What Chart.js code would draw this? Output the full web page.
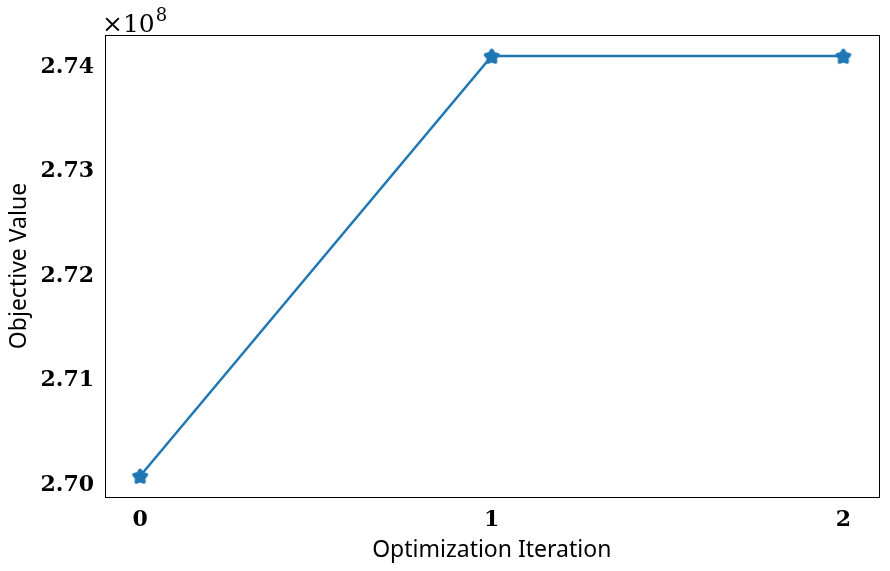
<!DOCTYPE html>
<html>
<head>
<meta charset="utf-8">
<script src="https://cdn.jsdelivr.net/npm/chart.js@4.4.0/dist/chart.umd.min.js"></script>
<style>
  html, body { margin: 0; padding: 0; background: #fff; }
  #wrap { width: 890px; height: 571px; }
</style>
</head>
<body>
<div id="wrap"><canvas id="chart"></canvas></div>
<script>
// data (objective values in units of 1e8)
const iterations = [0, 1, 2];
const objective = [2.70086, 2.74105, 2.74105];
const yTicks = [2.70, 2.71, 2.72, 2.73, 2.74];
const xTicks = [0, 1, 2];

const blue = "#1f77b4";
const serifBold = { family: "'DejaVu Serif', 'Liberation Serif', serif", size: 22, weight: "bold" };
const sansLabel = { family: "'Noto Sans', 'DejaVu Sans', sans-serif", size: 23 };

// five-pointed star marker like matplotlib '*'
function starMarker(size) {
  const c = document.createElement("canvas");
  c.width = size; c.height = size;
  const g = c.getContext("2d");
  const cx = size / 2, cy = size / 2 + 0.8;
  const ro = size / 2 - 2.5, ri = ro * 0.58;
  g.beginPath();
  for (let i = 0; i < 10; i++) {
    const r = i % 2 === 0 ? ro : ri;
    const a = -Math.PI / 2 + i * Math.PI / 5;
    g.lineTo(cx + r * Math.cos(a), cy + r * Math.sin(a));
  }
  g.closePath();
  g.fillStyle = blue;
  g.strokeStyle = blue;
  g.lineWidth = 3.5;
  g.lineJoin = "round";
  g.fill();
  g.stroke();
  return c;
}

const frame = {
  id: "frame",
  afterDraw(chart) {
    const { ctx, chartArea: a } = chart;
    ctx.save();
    ctx.strokeStyle = "#000";
    ctx.lineWidth = 1;
    ctx.strokeRect(Math.round(a.left) + 0.5, Math.round(a.top) + 0.5,
      Math.round(a.right - a.left), Math.round(a.bottom - a.top));
    // offset text  ×10^8
    ctx.fillStyle = "#000";
    ctx.textBaseline = "alphabetic";
    ctx.font = "25px 'DejaVu Serif', serif";
    ctx.fillText("×10", a.left - 3, a.top - 3);
    const w = ctx.measureText("×10").width;
    ctx.font = "18px 'DejaVu Serif', serif";
    ctx.fillText("8", a.left - 3 + w + 1, a.top - 14);
    ctx.restore();
  }
};

new Chart(document.getElementById("chart"), {
  type: "line",
  data: {
    datasets: [{
      data: iterations.map((x, i) => ({ x: x, y: objective[i] })),
      borderColor: blue,
      backgroundColor: blue,
      borderWidth: 2.5,
      pointStyle: starMarker(18),
      pointRadius: 9,
      tension: 0
    }]
  },
  options: {
    responsive: true,
    maintainAspectRatio: false,
    animation: false,
    layout: { padding: { top: 35, right: 10, left: 0, bottom: 0 } },
    plugins: { legend: { display: false }, tooltip: { enabled: false } },
    scales: {
      x: {
        type: "linear",
        min: -0.1,
        max: 2.1,
        afterBuildTicks: s => { s.ticks = xTicks.map(v => ({ value: v })); },
        afterFit: s => { s.height = 74; },
        grid: { display: false, drawTicks: true, tickLength: 5, tickColor: "#000" },
        border: { color: "#000" },
        ticks: { color: "#000", font: serifBold, padding: 5, callback: v => v.toFixed(0) },
        title: { display: true, text: "Optimization Iteration", color: "#000", font: sansLabel, padding: { top: 0, bottom: 7 } }
      },
      y: {
        min: 2.69885,
        max: 2.74306,
        afterBuildTicks: s => { s.ticks = yTicks.map(v => ({ value: v })); },
        afterFit: s => { s.width = 105; },
        grid: { display: false, drawTicks: true, tickLength: 5, tickColor: "#000" },
        border: { color: "#000" },
        ticks: { color: "#000", font: serifBold, padding: 6, callback: v => v.toFixed(2) },
        title: { display: true, text: "Objective Value", color: "#000", font: sansLabel, padding: { top: 6, bottom: 2 } }
      }
    }
  },
  plugins: [frame]
});
</script>
</body>
</html>
